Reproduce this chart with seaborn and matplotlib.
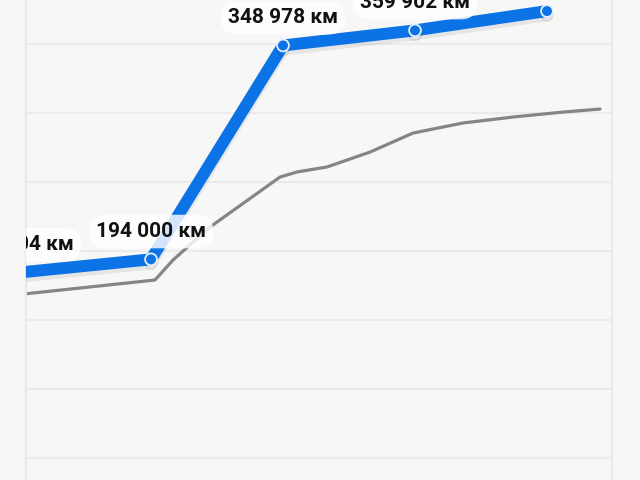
import numpy as np
import pandas as pd
import matplotlib
matplotlib.use("Agg")
import matplotlib.pyplot as plt
import matplotlib.patheffects as pe
import seaborn as sns

# --- data ---
# blue series: car mileage at each point (x = point index)
car_idx = [0, 1, 2, 3, 4]
car_km = [184404, 194000, 348978, 359902, 373900]
car_labels = ["184 404 км", "194 000 км", "348 978 км", "359 902 км", "373 900 км"]

# grey series: typical mileage curve
avg_idx = [0.0, 1.03, 1.167, 1.447, 1.977, 2.106, 2.333, 2.659, 2.985, 3.364, 3.742, 4.121, 4.402]
avg_km = [168500, 179000, 193500, 217400, 253600, 257300, 260900, 271700, 285500, 292800, 297100, 300700, 302900]

grid_km = list(range(0, 420001, 50000))

car = pd.DataFrame({"idx": car_idx, "km": car_km})
avg = pd.DataFrame({"idx": avg_idx, "km": avg_km})

sns.set_style("white")
plt.rcParams["font.family"] = ["Roboto", "DejaVu Sans"]

bg = "#f7f7f7"
blue = "#0b73e6"

fig = plt.figure(figsize=(6.4, 4.8), dpi=100, facecolor=bg)
# the screenshot is cropped, so the plot area runs past the top and bottom
ax = fig.add_axes([26 / 640, -0.098, (612 - 26) / 640, 1.2075])
ax.set_facecolor(bg)

sns.lineplot(data=avg, x="idx", y="km", ax=ax, color="#858585", linewidth=2.3,
             zorder=2)

sns.lineplot(data=car, x="idx", y="km", ax=ax, color=blue, linewidth=8.6,
             marker="o", markersize=8.5, markerfacecolor=blue,
             markeredgecolor="#e6f0fb", markeredgewidth=1.3, zorder=3)
line = ax.lines[-1]
line.set_solid_capstyle("round")
line.set_solid_joinstyle("round")
line.set_path_effects([pe.SimpleLineShadow(offset=(0, -3), alpha=0.07, shadow_color="k"),
                       pe.Normal()])

# labels are clipped to the plot area, like in the screenshot
for x, y, lab in zip(car_idx, car_km, car_labels):
    t = ax.annotate(lab, (x, y), xytext=(0, 20), textcoords="offset points",
                    ha="center", va="center", fontsize=15, fontweight="semibold",
                    color="#111111", zorder=5, annotation_clip=False,
                    bbox=dict(boxstyle="round,pad=0.35,rounding_size=0.8",
                              fc="white", ec="none", alpha=0.82))
    t.set_clip_on(True)
    t.set_clip_path(ax.patch)

ax.set_xlim((26 - 19) / 132, (612 - 19) / 132)
ax.set_ylim(0, 420000)
ax.set_yticks(grid_km)
ax.set_xticks([])
ax.yaxis.grid(True, color="#ebebeb", linewidth=1.5)
ax.tick_params(left=False, bottom=False, labelleft=False, labelbottom=False)
ax.set_xlabel("")
ax.set_ylabel("")
for side in ["top", "bottom"]:
    ax.spines[side].set_visible(False)
for side in ["left", "right"]:
    ax.spines[side].set_color("#e9e9e9")
    ax.spines[side].set_linewidth(1.5)

fig.savefig("out.png", dpi=100, facecolor=bg)
